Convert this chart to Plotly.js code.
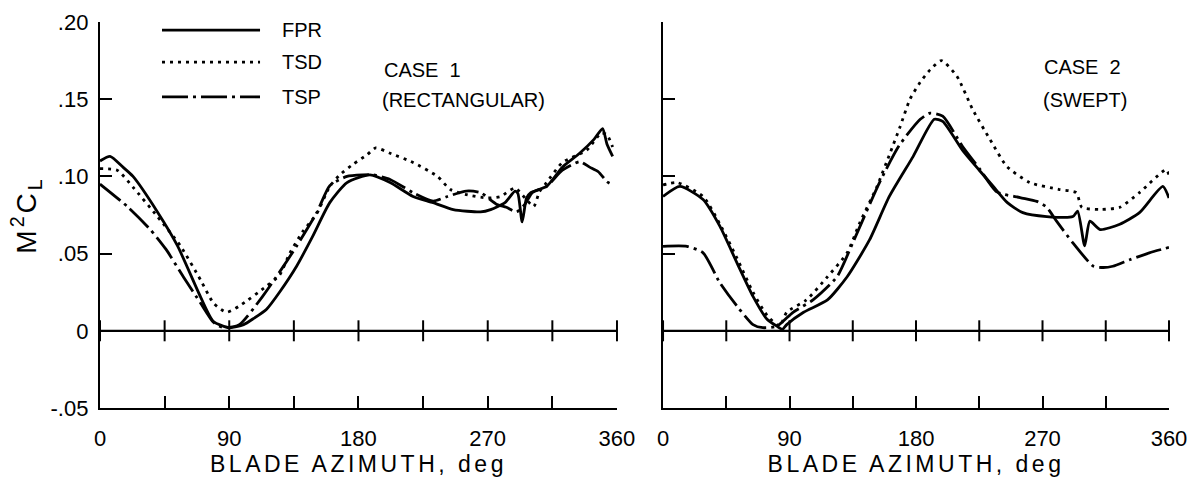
<!DOCTYPE html>
<html>
<head>
<meta charset="utf-8">
<script src="https://cdn.plot.ly/plotly-3.0.1.min.js"></script>
<style>
html,body{margin:0;padding:0;background:#fff;}
#chart{width:1192px;height:477px;}
.xtitle,.x2title{letter-spacing:3.5px;}
.ytitle{letter-spacing:3px;}
</style>
</head>
<body>
<div id="chart"></div>
<script>
// ---- data ----
const AZ_TICKS = [0, 45, 90, 135, 180, 225, 270, 315, 360];
const AZ_LABEL_VALS = [0, 90, 180, 270, 360];
const AZ_LABELS = ['0', '90', '180', '270', '360'];
const CL_TICKS = [-0.05, 0, 0.05, 0.10, 0.15, 0.20];
const CL_LABELS = ['-.05', '0', '.05', '.10', '.15', '.20'];
const SERIES = ['FPR', 'TSD', 'TSP'];

// Case 1 (rectangular)
const fpr1_x = [0, 7, 16, 23, 40, 54, 70, 79, 90, 100, 107, 116, 125, 137, 148, 160, 172, 188, 202, 218, 232, 246, 265, 272, 282, 289, 291, 294, 297, 300, 311, 322, 334, 344, 350, 353, 357];
const fpr1_y = [0.110, 0.113, 0.106, 0.100, 0.077, 0.055, 0.022, 0.006, 0.002, 0.004, 0.008, 0.014, 0.025, 0.042, 0.061, 0.083, 0.096, 0.101, 0.096, 0.087, 0.083, 0.0785, 0.077, 0.0785, 0.083, 0.0905, 0.089, 0.0705, 0.086, 0.0895, 0.0935, 0.106, 0.115, 0.124, 0.131, 0.121, 0.113];
const tsd1_x = [0, 12, 23, 40, 56, 70, 79, 88, 97, 116, 125, 132, 141, 151, 160, 167, 176, 186, 192, 202, 218, 235, 244, 256, 270, 279, 289, 296, 302, 306, 311, 322, 339, 349, 353, 357];
const tsd1_y = [0.105, 0.104, 0.093, 0.074, 0.055, 0.033, 0.018, 0.012, 0.016, 0.029, 0.036, 0.050, 0.064, 0.076, 0.0935, 0.101, 0.1077, 0.114, 0.1185, 0.115, 0.109, 0.100, 0.0915, 0.088, 0.086, 0.087, 0.0925, 0.086, 0.0805, 0.090, 0.096, 0.109, 0.117, 0.128, 0.127, 0.119];
const tsp1_x = [0, 19, 35, 46, 58, 70, 79, 86, 97, 113, 125, 137, 151, 160, 172, 183, 190, 202, 218, 232, 242, 255, 265, 276, 283, 290, 296, 301, 311, 322, 334, 341, 347, 353, 356];
const tsp1_y = [0.095, 0.0805, 0.0656, 0.0527, 0.035, 0.018, 0.0055, 0.002, 0.004, 0.022, 0.038, 0.055, 0.0766, 0.094, 0.100, 0.101, 0.101, 0.098, 0.0895, 0.084, 0.087, 0.0905, 0.0895, 0.082, 0.080, 0.077, 0.082, 0.0895, 0.0935, 0.104, 0.1095, 0.106, 0.103, 0.0966, 0.095];

// Case 2 (swept)
const fpr2_x = [0, 12, 28.5, 40.5, 52.6, 64, 74, 81, 85, 88, 100, 117, 131, 147, 161, 178, 193, 199, 213, 225, 235, 245, 256, 273, 291.6, 295, 300, 303.7, 311, 325, 339, 355.6, 360];
const fpr2_y = [0.087, 0.0935, 0.085, 0.0676, 0.044, 0.0223, 0.0075, 0.003, 0.001, 0.004, 0.012, 0.020, 0.035, 0.059, 0.087, 0.113, 0.137, 0.1356, 0.117, 0.104, 0.0935, 0.083, 0.0765, 0.074, 0.074, 0.0775, 0.055, 0.071, 0.0656, 0.069, 0.0765, 0.0935, 0.086];
const tsd2_x = [0, 10, 28.5, 40.5, 52.6, 64, 74, 83, 88, 102, 117, 131, 140, 152, 161.5, 168.6, 175.7, 183, 190, 198, 209, 220.5, 232.6, 244.6, 261, 282, 294, 298, 310.8, 325, 339, 358, 360];
const tsd2_y = [0.0945, 0.096, 0.087, 0.069, 0.047, 0.025, 0.010, 0.003, 0.012, 0.020, 0.035, 0.0505, 0.070, 0.093, 0.115, 0.132, 0.150, 0.161, 0.169, 0.175, 0.165, 0.143, 0.124, 0.1065, 0.096, 0.0915, 0.0895, 0.080, 0.0786, 0.080, 0.0895, 0.1045, 0.101];
const tsp2_x = [0, 17, 28.5, 40.5, 52.6, 64, 71, 81, 92.5, 106.7, 123.8, 135, 154, 168, 183, 190, 199, 213, 225.5, 237.5, 254, 266, 273, 280, 291.6, 306, 313, 320, 332, 346, 360];
const tsp2_y = [0.0547, 0.0547, 0.0505, 0.031, 0.016, 0.004, 0.002, 0.003, 0.012, 0.020, 0.035, 0.057, 0.096, 0.120, 0.137, 0.141, 0.139, 0.1195, 0.1045, 0.090, 0.0863, 0.0838, 0.080, 0.071, 0.057, 0.042, 0.041, 0.0418, 0.046, 0.0505, 0.054];

// ---- styling ----
const INK = '#000';
const FAMILY = 'Liberation Sans, Arial, Helvetica, sans-serif';
const FONT = {family: FAMILY, size: 20, color: INK};
const TICKFONT = {family: FAMILY, size: 22, color: INK};
const TITLEFONT = {family: FAMILY, size: 23, color: INK};
const DASH = {FPR: 'solid', TSD: '3px,5px', TSP: '26px,5px,3px,5px'};
const LW = 2.8;

function curve(x, y, name, xa, ya) {
  return {x: x, y: y, type: 'scatter', mode: 'lines', name: name, xaxis: xa, yaxis: ya,
    line: {color: INK, width: LW, dash: DASH[name], shape: 'spline', smoothing: 0.6},
    showlegend: false, hoverinfo: 'x+y+name'};
}
function zeroLine(xa, ya) {
  return {x: AZ_TICKS, y: AZ_TICKS.map(() => 0), type: 'scatter', mode: 'lines+markers',
    xaxis: xa, yaxis: ya, showlegend: false, hoverinfo: 'skip', cliponaxis: false,
    line: {color: INK, width: 2.2},
    marker: {symbol: 'line-ns-open', size: 15, color: INK, line: {width: 2, color: INK}}};
}

const data = [
  zeroLine('x', 'y'), zeroLine('x2', 'y2'),
  curve(fpr1_x, fpr1_y, 'FPR', 'x', 'y'),
  curve(tsd1_x, tsd1_y, 'TSD', 'x', 'y'),
  curve(tsp1_x, tsp1_y, 'TSP', 'x', 'y'),
  curve(fpr2_x, fpr2_y, 'FPR', 'x2', 'y2'),
  curve(tsd2_x, tsd2_y, 'TSD', 'x2', 'y2'),
  curve(tsp2_x, tsp2_y, 'TSP', 'x2', 'y2')
];

function xAxis(domain, anchor) {
  return {domain: domain, anchor: anchor, range: [0, 360], tickmode: 'array',
    tickvals: AZ_LABEL_VALS, ticktext: AZ_LABELS, ticks: 'inside', ticklen: 12, tickwidth: 2,
    tickcolor: INK, showline: true, linewidth: 2.2, linecolor: INK, showgrid: false,
    minor: {tickmode: 'array', tickvals: AZ_TICKS, ticks: 'inside', ticklen: 12, tickwidth: 2, tickcolor: INK, showgrid: false},
    zeroline: false, tickfont: TICKFONT, ticklabelstandoff: 9, fixedrange: true,
    title: {text: 'BLADE AZIMUTH, deg', font: TITLEFONT, standoff: 8}};
}
function yAxis(anchor, labels) {
  const a = {domain: [0, 1], anchor: anchor, range: [-0.05, 0.20], tickmode: 'array',
    tickvals: CL_TICKS, ticktext: CL_LABELS, ticks: 'inside', ticklen: 12, tickwidth: 2,
    tickcolor: INK, showline: true, linewidth: 2.2, linecolor: INK, showgrid: false,
    zeroline: false, tickfont: TICKFONT, showticklabels: labels, fixedrange: true,
    ticklabelstandoff: 5};
  if (labels) a.title = {text: 'M<sup>2</sup>C<sub>L</sub>', font: {family: FAMILY, size: 28, color: INK}, standoff: 6};
  return a;
}

// legend drawn in the left panel
const LEG_Y = [0.979, 0.896, 0.806];
const shapes = SERIES.map((s, i) => ({type: 'line', xref: 'paper', yref: 'paper',
  x0: 0.058, x1: 0.1497, y0: LEG_Y[i], y1: LEG_Y[i],
  line: {color: INK, width: LW, dash: DASH[s]}}));
const annotations = SERIES.map((s, i) => ({text: s, xref: 'paper', yref: 'paper',
  x: 0.1684, y: LEG_Y[i], xanchor: 'left', yanchor: 'middle', showarrow: false, font: FONT}));
annotations.push(
  {text: 'CASE  1', xref: 'paper', yref: 'paper', x: 0.2638, y: 0.876, xanchor: 'left', yanchor: 'middle', showarrow: false, font: FONT},
  {text: '(RECTANGULAR)', xref: 'paper', yref: 'paper', x: 0.2620, y: 0.797, xanchor: 'left', yanchor: 'middle', showarrow: false, font: FONT},
  {text: 'CASE  2', xref: 'paper', yref: 'paper', x: 0.8812, y: 0.883, xanchor: 'left', yanchor: 'middle', showarrow: false, font: FONT},
  {text: '(SWEPT)', xref: 'paper', yref: 'paper', x: 0.8800, y: 0.798, xanchor: 'left', yanchor: 'middle', showarrow: false, font: FONT}
);

const layout = {
  width: 1192, height: 477,
  margin: {l: 100, r: 23, t: 22, b: 69, pad: 0},
  paper_bgcolor: '#fff', plot_bgcolor: '#fff',
  font: FONT, showlegend: false,
  xaxis: xAxis([0, 0.4836], 'y'),
  yaxis: yAxis('x', true),
  xaxis2: xAxis([0.5267, 1], 'y2'),
  yaxis2: yAxis('x2', false),
  shapes: shapes, annotations: annotations
};

Plotly.newPlot('chart', data, layout, {staticPlot: true, displayModeBar: false});
</script>
</body>
</html>
